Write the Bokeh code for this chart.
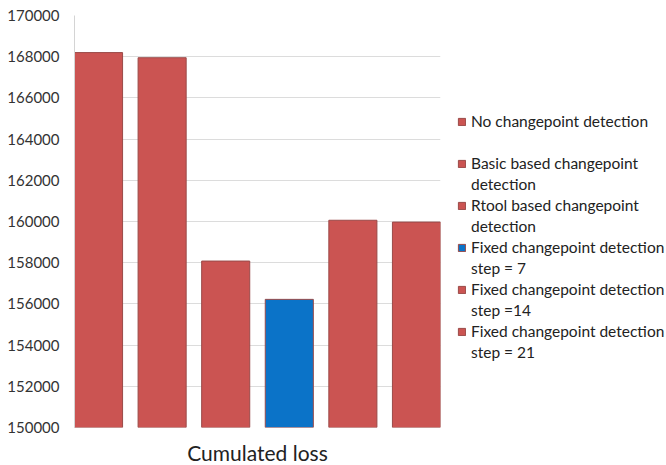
import numpy as np
from bokeh.plotting import figure
from bokeh.models import (ColumnDataSource, Legend, LegendItem, FixedTicker, Range1d,
                          BasicTickFormatter)
from bokeh.embed import file_html
from bokeh.resources import INLINE

# ---- data ----
series = [
    "No changepoint detection",
    "Basic based changepoint\ndetection",
    "Rtool based changepoint\ndetection",
    "Fixed changepoint detection\nstep = 7",
    "Fixed changepoint detection\nstep =14",
    "Fixed changepoint detection\nstep = 21",
]
values = [168200, 167950, 158080, 156220, 160060, 159970]
y_ticks = [150000, 152000, 154000, 156000, 158000, 160000, 162000, 164000, 166000, 168000, 170000]
category_label = "Cumulated loss"

# ---- styles ----
colors = ["#CB5452", "#CB5452", "#CB5452", "#0B73C8", "#CB5452", "#CB5452"]
font = "Lato"
fs = "15.5px"

x = np.arange(len(values))
src = ColumnDataSource(dict(x=x, top=values, color=colors, name=series))

p = figure(frame_width=366, frame_height=412, output_backend="svg", toolbar_location=None,
           x_range=Range1d(-0.378, len(values) - 1 + 0.378),
           y_range=Range1d(y_ticks[0], y_ticks[-1]),
           min_border_left=74, min_border_top=15, min_border_bottom=33, min_border_right=226)
p.outline_line_color = None
p.background_fill_color = "white"

r = p.vbar(x="x", top="top", bottom=y_ticks[0], width=0.756, source=src,
           fill_color="color", line_color="#9a4a48", line_width=1)
# invisible renderer for the continuation lines of the legend labels
r_blank = p.vbar(x=[], top=[], width=0.5, fill_alpha=0, line_alpha=0)

p.yaxis.ticker = FixedTicker(ticks=y_ticks)
p.yaxis.formatter = BasicTickFormatter(use_scientific=False)
p.yaxis.major_label_text_font = font
p.yaxis.major_label_text_font_size = "15px"
p.yaxis.major_label_text_color = "#333333"
p.yaxis.major_tick_out = 0
p.yaxis.major_tick_in = 0
p.yaxis.minor_tick_line_color = None
p.yaxis.axis_line_color = "#d4d4d4"
p.yaxis.major_label_standoff = 15

p.xaxis.ticker = FixedTicker(ticks=[])
p.xaxis.axis_line_color = None
p.xaxis.major_tick_line_color = None
p.xaxis.minor_tick_line_color = None
p.xaxis.axis_label = category_label
p.xaxis.axis_label_text_font = font
p.xaxis.axis_label_text_font_style = "normal"
p.xaxis.axis_label_text_font_size = "21px"
p.xaxis.axis_label_text_color = "#222222"
p.xaxis.axis_label_standoff = 12

p.xgrid.grid_line_color = None
p.ygrid.grid_line_color = "#dcdcdc"
p.ygrid.ticker = FixedTicker(ticks=y_ticks)

# one legend row per text line; the swatch sits beside the first line
items = []
for i, s in enumerate(series):
    lines = s.split("\n")
    if len(lines) < 2:
        lines.append("\u00a0")
    items.append(LegendItem(label=lines[0], renderers=[r], index=i))
    for ln in lines[1:]:
        items.append(LegendItem(label=ln, renderers=[r_blank]))

legend = Legend(items=items, location=(17, 66), border_line_color=None,
                background_fill_alpha=0, label_text_font=font, label_text_font_size=fs,
                label_text_color="#222222", glyph_width=9, glyph_height=9,
                label_standoff=5, spacing=3, margin=0, padding=0)
p.add_layout(legend, "right")

open("out.html", "w").write(file_html(p, INLINE))
